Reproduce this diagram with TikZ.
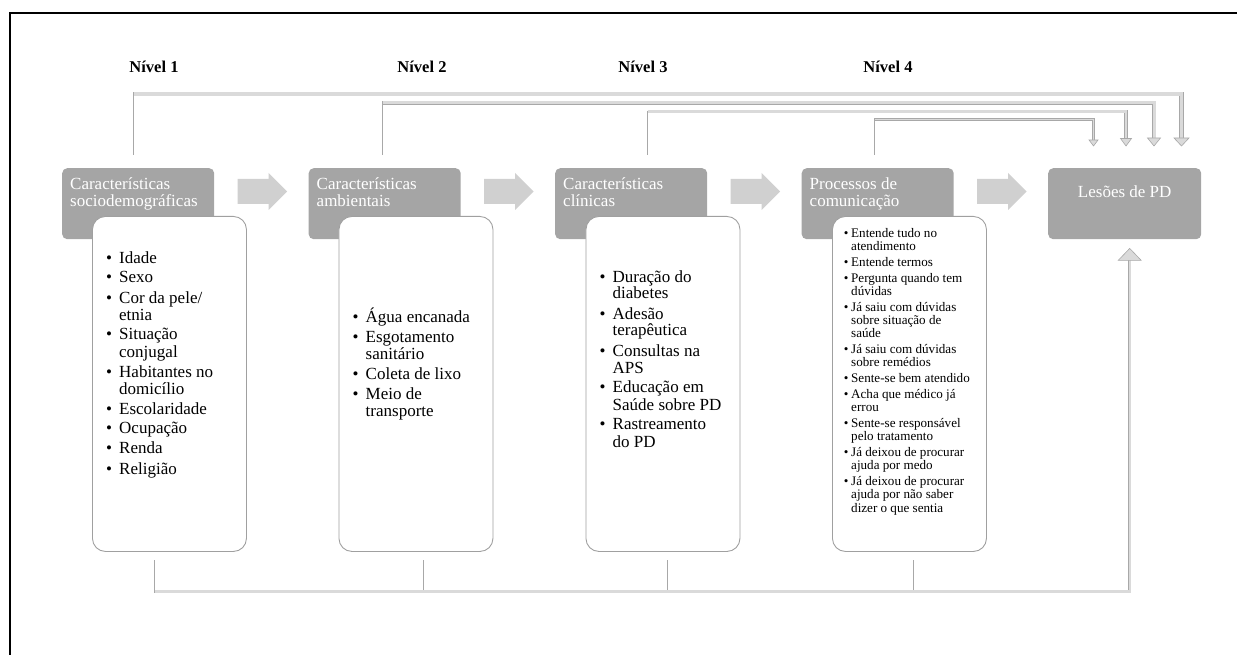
\documentclass[tikz,border=0pt]{standalone}
\usepackage{fontspec}
\setmainfont{Liberation Serif}
\usetikzlibrary{calc}
\definecolor{hdrgray}{RGB}{165,165,165}
\definecolor{arrgray}{RGB}{208,208,208}
\definecolor{bandfill}{RGB}{218,218,218}
\definecolor{bandline}{RGB}{168,168,168}
\definecolor{boxline}{RGB}{160,160,160}
\newlength\lind
\newlength\igap
\newcommand\pfirst[1]{\hangindent=\lind\hangafter=1\noindent\makebox[\lind][l]{\textbullet}#1}
\newcommand\pitem[1]{\par\vspace{\igap}\pfirst{#1}}
\newcommand\biglist{\fontsize{17}{17}\selectfont\setlength\lind{13pt}\setlength\igap{3pt}\lineskiplimit=-30pt\lineskip=0pt\relax}
\newcommand\smalllist{\fontsize{13.1}{13.2}\selectfont\setlength\lind{7.3pt}\setlength\igap{2.7pt}\lineskiplimit=-30pt\lineskip=0pt\relax}
\begin{document}
\begin{tikzpicture}[x=1pt,y=-1pt,
  hdr/.style={fill=hdrgray, rounded corners=5pt, minimum width=152pt, minimum height=71pt, inner sep=0pt, anchor=north west},
  wbox/.style={draw=boxline, line width=0.9pt, fill=white, rounded corners=13pt, minimum width=154pt, minimum height=335pt, inner sep=0pt, anchor=north west},
  htxt/.style={text=white, inner sep=0pt, anchor=base west, font=\fontsize{17}{17}\selectfont},
  lvl/.style={inner sep=0pt, anchor=base, font=\bfseries\fontsize{16.5}{17}\selectfont},
  lst/.style={inner sep=0pt, anchor=base west},
  thinln/.style={draw=bandline, line width=0.9pt},
  headst/.style={fill=bandfill, draw=bandline, line width=0.6pt, line join=miter},
  pics/blockarr/.style={code={\fill[arrgray] (0,-12.5) -- (31,-12.5) -- (31,-18.5) -- (49.5,0) -- (31,18.5) -- (31,12.5) -- (0,12.5) -- cycle;}}
]
\useasboundingbox (0,0) rectangle (1237,655);
% frame
\draw[line width=1.4pt] (10,660) -- (10,13) -- (1245,13);

% level labels
\node[lvl] (n1) at (154,73) {Nível 1};
\node[lvl] (n2) at (422,73) {Nível 2};
\node[lvl] (n3) at (643,73) {Nível 3};
\node[lvl] (n4) at (888,73) {Nível 4};

% header boxes
\node[hdr] (h1) at (62,168) {};
\node[hdr] (h2) at (308.5,168) {};
\node[hdr] (h3) at (555,168) {};
\node[hdr] (h4) at (801.5,168) {};
\node[hdr, minimum width=153pt] (h5) at (1048,168) {};

\node[htxt] (t1) at ($(h1.north west)+(8,21.5)$) {\parbox[t]{145pt}{Características\\sociodemográficas}};
\node[htxt] (t2) at ($(h2.north west)+(8,21.5)$) {\parbox[t]{145pt}{Características\\ambientais}};
\node[htxt] (t3) at ($(h3.north west)+(8,21.5)$) {\parbox[t]{145pt}{Características\\clínicas}};
\node[htxt] (t4) at ($(h4.north west)+(8,21.5)$) {\parbox[t]{145pt}{Processos de\\comunicação}};
\node[htxt, anchor=base] (t5) at ($(h5.north)+(0,30)$) {Lesões de PD};

% block arrows
\pic at (237.5,191.5) {blockarr};
\pic at (484,191.5) {blockarr};
\pic at (730.5,191.5) {blockarr};
\pic at (977,191.5) {blockarr};

% white boxes
\node[wbox] (b1) at (92,216) {};
\node[wbox] (b2) at (338.5,216) {};
\node[wbox] (b3) at (585.5,216) {};
\node[wbox] (b4) at (832,216) {};

\node[lst] (l1) at ($(b1.north west)+(14,47)$) {\parbox[t]{140pt}{\biglist
\pfirst{Idade}\pitem{Sexo}\pitem{Cor da pele/\\etnia}\pitem{Situação\\conjugal}\pitem{Habitantes no\\domicílio}\pitem{Escolaridade}\pitem{Ocupação}\pitem{Renda}\pitem{Religião}}};
\node[lst] (l2) at ($(b2.north west)+(14,106)$) {\parbox[t]{140pt}{\biglist
\pfirst{Água encanada}\pitem{Esgotamento\\sanitário}\pitem{Coleta de lixo}\pitem{Meio de\\transporte}}};
\node[lst] (l3) at ($(b3.north west)+(14,66)$) {\parbox[t]{140pt}{\biglist
\pfirst{Duração do\\diabetes}\pitem{Adesão\\terapêutica}\pitem{Consultas na\\APS}\pitem{Educação em\\Saúde sobre PD}\pitem{Rastreamento\\do PD}}};
\node[lst] (l4) at ($(b4.north west)+(11.7,21)$) {\parbox[t]{145pt}{\smalllist
\pfirst{Entende tudo no\\atendimento}\pitem{Entende termos}\pitem{Pergunta quando tem\\dúvidas}\pitem{Já saiu com dúvidas\\sobre situação de\\saúde}\pitem{Já saiu com dúvidas\\sobre remédios}\pitem{Sente-se bem atendido}\pitem{Acha que médico já\\errou}\pitem{Sente-se responsável\\pelo tratamento}\pitem{Já deixou de procurar\\ajuda por medo}\pitem{Já deixou de procurar\\ajuda por não saber\\dizer o que sentia}}};

% top connectors
\coordinate (s1) at (133,155);
\coordinate (s2) at (382,155);
\coordinate (s3) at (647.5,155);
\coordinate (s4) at (874,155);
\coordinate (e1) at (1181.5,146);
\coordinate (e2) at (1154,146);
\coordinate (e3) at (1126,146);
\coordinate (e4) at (1093.5,146);
\foreach \s/\e/\y/\w/\hw/\hh in {s1/e1/94/4.6/7.5/8, s2/e2/103/4.2/6.5/8, s3/e3/111.5/3.6/5.5/7.5, s4/e4/119.5/2.6/4.5/6}{
  \coordinate (ky) at (0,\y);
  \draw[thinln] (\s) -- (\s |- ky);
  \draw[draw=bandline, line width=\w pt] (\s |- ky) -- (\e |- ky) -- ([yshift={(\hh-0.5)*1pt}]\e);
  \draw[draw=bandfill, line width={(\w-1.2)*1pt}, shorten <=0.6pt] (\s |- ky) -- (\e |- ky) -- ([yshift={(\hh-0.5)*1pt}]\e);
  \filldraw[headst] (\e) -- ++(-\hw,-\hh) -- ++({2*\hw},0) -- cycle;
}

% bottom connector
\coordinate (u1) at (154,560);
\coordinate (u2) at (423,560);
\coordinate (u3) at (667,560);
\coordinate (u4) at (913,560);
\coordinate (kb) at (0,591.5);
\coordinate (tp) at ($(h5.south)+(5,9)$);
\foreach \u in {u1,u2,u3,u4}{\draw[thinln] (\u) -- (\u |- kb);}
\draw[draw=bandline, line width=3.4pt] (u1 |- kb) -- (tp |- kb) -- ([yshift=-11.5pt]tp);
\draw[draw=bandfill, line width=2.2pt, shorten <=0.6pt] (u1 |- kb) -- (tp |- kb) -- ([yshift=-11.5pt]tp);
\filldraw[headst] (tp) -- ++(-11.5,12) -- ++(23,0) -- cycle;
\end{tikzpicture}
\end{document}
